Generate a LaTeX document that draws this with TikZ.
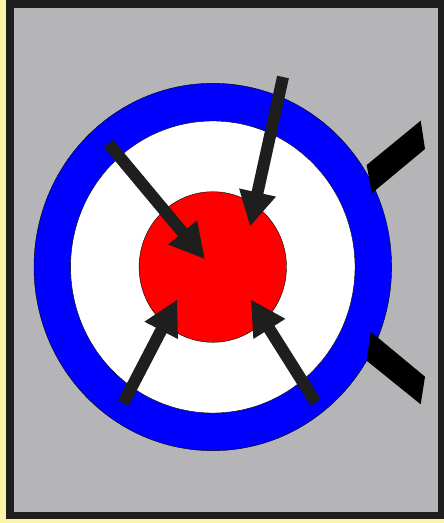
\documentclass[tikz,border=0pt]{standalone}
\usepackage{xcolor}
\usepackage{tikz}
\usetikzlibrary{arrows.meta}

\definecolor{frameyellow}{RGB}{252,245,165}
\definecolor{framedark}{RGB}{30,30,30}
\definecolor{panelgrey}{RGB}{181,181,183}

\begin{document}
\begin{tikzpicture}[x=1pt,y=-1pt]
  % Frame: yellow edge, dark border, grey panel
  \fill[frameyellow] (0,0) rectangle (444,523);
  \fill[framedark] (6,0) rectangle (444,519);
  \fill[panelgrey] (14,8) rectangle (438,512);
  \useasboundingbox (0,0) rectangle (444,523);

  % Target rings
  \coordinate (centre) at (212.8,267);
  \filldraw[fill=blue, draw=black, thin] (centre) ellipse [x radius=178.8pt, y radius=183.7pt];
  \filldraw[fill=white, draw=black, thin] (centre) ellipse [x radius=142.2pt, y radius=146pt];
  \filldraw[fill=red, draw=black, thin] (centre) ellipse [x radius=73.7pt, y radius=75.3pt];

  % Side tabs
  \fill[black] (366.7,165) -- (420.7,120.7) -- (425,149) -- (371.7,193.3) -- cycle;
  \fill[black] (370.7,331.7) -- (425,376.7) -- (420.7,404.3) -- (366.7,360.7) -- cycle;

  % Arrows pointing at the centre (start x/y, tip x/y)
  \foreach \sx/\sy/\tx/\ty in {108.3/143.3/205/259.3, 283/77/250/226.7,
                               123.3/403.3/177.3/299.3, 315.7/402.5/250.7/299.3}
    \draw[framedark, line width=12pt, -{Triangle[length=35pt,width=35pt]}]
      (\sx,\sy) -- (\tx,\ty);
\end{tikzpicture}
\end{document}
